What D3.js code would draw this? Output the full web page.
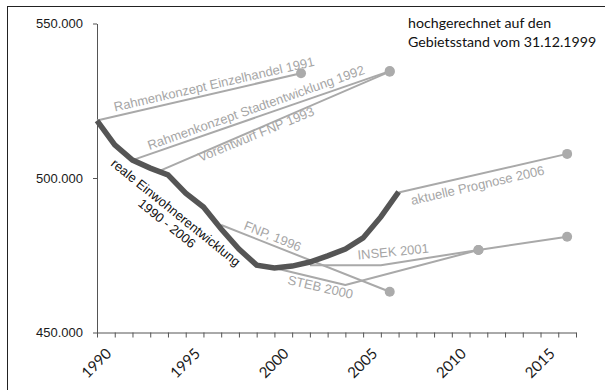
<!DOCTYPE html>
<html>
<head>
<meta charset="utf-8">
<script src="https://cdn.jsdelivr.net/npm/d3@7"></script>
<style>
  body { margin: 0; background: #fff; }
  svg { display: block; }
</style>
</head>
<body>
<svg></svg>
<script>
// reale Einwohnerentwicklung, Werte jeweils zum Jahresanfang (= Stand 31.12. Vorjahr)
const realYears = [1990, 1991, 1992, 1993, 1994, 1995, 1996, 1997, 1998,
    1999, 2000, 2001, 2002, 2003, 2004, 2005, 2006, 2007];
const realValues = [518600, 510700, 505800, 503200, 501000, 495100, 490600, 483500, 477000,
    471800, 470900, 471500, 472800, 474800, 477000, 480600, 487400, 495500];

// Prognosen; Zieljahre liegen in der Jahresmitte (x.5) und bekommen einen Punkt
const forecastNames = [
    'Rahmenkonzept Einzelhandel 1991',
    'Rahmenkonzept Stadtentwicklung 1992',
    'Vorentwurf FNP 1993',
    'FNP, 1996',
    'STEB 2000',
    'INSEK 2001',
    'aktuelle Prognose 2006'
];
const forecastYears = [
    [1990, 2001.5],
    [1992, 2006.5],
    [1993.5, 2006.5],
    [1997, 2006.5],
    [2000, 2004, 2011.5],
    [2002, 2006, 2011.5, 2016.5],
    [2007, 2016.5]
];
const forecastValues = [
    [518600, 533900],
    [505800, 534600],
    [502200, 534400],
    [484800, 463200],
    [470900, 465400, 476700],
    [471800, 471800, 476700, 481000],
    [495300, 507800]
];

const tickYears = [1990, 1995, 2000, 2005, 2010, 2015];
const yTicks = [450000, 500000, 550000];
const noteLines = ['hochgerechnet auf den', 'Gebietsstand vom 31.12.1999'];

const svgWidth = 605;
const svgHeight = 390;
const sansFont = '"Liberation Sans", Arial, sans-serif';
const gray = '#a9a9a9';

const x = d3.scaleLinear()
    .domain([1990, 2017])
    .range([97, 576]);

const y = d3.scaleLinear()
    .domain([450000, 550000])
    .range([332.5, 23.5]);

const de = d3.formatLocale({ decimal: ',', thousands: '.', grouping: [3], currency: ['', ' €'] });

const svg = d3.select('svg')
    .attr('width', svgWidth)
    .attr('height', svgHeight)
    .attr('font-family', sansFont);

// Rahmen (nur oben und links sichtbar)
svg.append('rect')
    .attr('x', 7.5)
    .attr('y', 6.5)
    .attr('width', 700)
    .attr('height', 500)
    .attr('fill', 'none')
    .attr('stroke', '#222');

// Achsen
const yAxis = svg.append('g')
    .attr('transform', `translate(${x(1990)}, 0)`)
    .call(d3.axisLeft(y).tickValues(yTicks).tickSize(4).tickSizeOuter(0).tickPadding(10)
        .tickFormat(de.format(',d')))
    .attr('color', '#555')
    .attr('font-family', sansFont)
    .attr('font-size', 13);
yAxis.selectAll('text').attr('fill', '#1a1a1a');

svg.append('g')
    .attr('transform', `translate(0, ${y(450000)})`)
    .call(d3.axisBottom(x).tickValues(d3.range(1990, 2018)).tickSize(5).tickSizeOuter(0).tickFormat(''))
    .attr('color', '#555');

const xLabels = svg.append('g')
    .attr('transform', `translate(0, ${y(450000)})`)
    .call(d3.axisBottom(x).tickValues(tickYears.map(d => d + 0.5)).tickSize(0)
        .tickFormat(d => Math.floor(d)))
    .attr('font-family', 'Lato, sans-serif')
    .attr('font-size', 15);
xLabels.select('.domain').remove();
xLabels.selectAll('text')
    .attr('y', 0)
    .attr('dy', 0)
    .attr('fill', '#1a1a1a')
    .attr('text-anchor', 'end')
    .attr('transform', 'translate(6, 22) rotate(-45)');

// Prognoselinien
const line = d3.line()
    .x(d => x(d[0]))
    .y(d => y(d[1]));

const forecasts = forecastNames.map((name, i) => ({
    name: name,
    points: forecastYears[i].map((yr, j) => [yr, forecastValues[i][j]])
}));

svg.append('g')
    .selectAll('path')
    .data(forecasts)
    .enter()
    .append('path')
    .attr('d', d => line(d.points))
    .attr('fill', 'none')
    .attr('stroke', gray)
    .attr('stroke-width', 2)
    .attr('stroke-linejoin', 'round');

// reale Entwicklung
svg.append('path')
    .datum(realYears.map((yr, i) => [yr, realValues[i]]))
    .attr('d', line)
    .attr('fill', 'none')
    .attr('stroke', '#555')
    .attr('stroke-width', 5.5)
    .attr('stroke-linejoin', 'miter');

// Punkte nur an den Zieljahren (nicht am Startpunkt der Prognose)
const targets = forecasts.flatMap(d => d.points.filter((p, j) => j > 0 && p[0] % 1 !== 0));
svg.append('g')
    .selectAll('circle')
    .data(targets)
    .enter()
    .append('circle')
    .attr('cx', d => x(d[0]))
    .attr('cy', d => y(d[1]))
    .attr('r', 5)
    .attr('fill', '#ababab');

// Beschriftungen der Prognosen
const labelPos = [
    { x: 115, y: 111.5, a: -12.9 },
    { x: 149.5, y: 150, a: -19.5 },
    { x: 200.5, y: 162, a: -22.4 },
    { x: 243, y: 229, a: 22 },
    { x: 287, y: 284, a: 13 },
    { x: 358, y: 259.5, a: -5.5 },
    { x: 412, y: 205, a: -13 }
];

svg.append('g')
    .selectAll('text')
    .data(forecasts)
    .enter()
    .append('text')
    .attr('transform', (d, i) => `translate(${labelPos[i].x}, ${labelPos[i].y}) rotate(${labelPos[i].a})`)
    .attr('font-size', 13)
    .attr('fill', '#a6a6a6')
    .text(d => d.name);

const realLabel = svg.append('text')
    .attr('transform', 'translate(173, 216) rotate(39)')
    .attr('text-anchor', 'middle')
    .attr('font-size', 13)
    .attr('fill', '#111');
realLabel.append('tspan').attr('x', 0).attr('y', 0).text('reale Einwohnerentwicklung');
realLabel.append('tspan').attr('x', 0).attr('y', 14).text('1990 - 2006');

// Hinweis oben rechts
svg.append('text')
    .attr('font-family', 'Lato, sans-serif')
    .attr('font-size', 14.2)
    .attr('fill', '#111')
    .selectAll('tspan')
    .data(noteLines)
    .enter()
    .append('tspan')
    .attr('x', 408)
    .attr('y', (d, i) => 28.3 + i * 18.3)
    .text(d => d);
</script>
</body>
</html>
